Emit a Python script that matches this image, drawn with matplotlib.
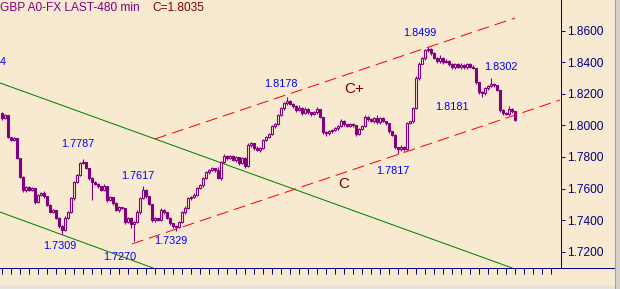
import numpy as np
import matplotlib
matplotlib.use('Agg')
import matplotlib.pyplot as plt
from matplotlib.lines import Line2D
from matplotlib.patches import Rectangle

plt.rcParams['font.family'] = ['Liberation Sans', 'DejaVu Sans']
plt.rcParams['lines.scale_dashes'] = False

symbol = 'GBP A0-FX LAST-480 min'

# 480 min closes, oldest first
closes = [
    1.8044, 1.8063, 1.7924, 1.7905, 1.7918, 1.7791, 1.7671, 1.7589, 1.7608, 1.7589,
    1.7601, 1.7513, 1.7557, 1.7570, 1.7551, 1.7494, 1.7449, 1.7462, 1.7411, 1.7361,
    1.7335, 1.7411, 1.7449, 1.7538, 1.7639, 1.7683, 1.7759, 1.7766, 1.7728, 1.7665,
    1.7639, 1.7627, 1.7614, 1.7589, 1.7614, 1.7525, 1.7544, 1.7506, 1.7462, 1.7481,
    1.7475, 1.7386, 1.7411, 1.7373, 1.7386, 1.7449, 1.7538, 1.7589, 1.7551, 1.7500,
    1.7399, 1.7411, 1.7399, 1.7462, 1.7449, 1.7411, 1.7380, 1.7361, 1.7354, 1.7386,
    1.7449, 1.7475, 1.7538, 1.7544, 1.7557, 1.7601, 1.7620, 1.7665, 1.7702, 1.7715,
    1.7728, 1.7715, 1.7665, 1.7766, 1.7804, 1.7791, 1.7804, 1.7778, 1.7797, 1.7759,
    1.7791, 1.7740, 1.7873, 1.7886, 1.7854, 1.7842, 1.7854, 1.7905, 1.7924, 1.7943,
    1.7994, 1.8006, 1.8063, 1.8108, 1.8139, 1.8152, 1.8133, 1.8120, 1.8095, 1.8108,
    1.8076, 1.8101, 1.8082, 1.8070, 1.8082, 1.8101, 1.8051, 1.7956, 1.7949, 1.7962,
    1.7968, 1.7981, 1.7994, 1.8025, 1.8006, 1.7994, 1.8006, 1.8000, 1.7943, 1.7975,
    1.7994, 1.8051, 1.8038, 1.8025, 1.8044, 1.8019, 1.8044, 1.8025, 1.8013, 1.7962,
    1.7937, 1.7861, 1.7848, 1.7861, 1.7848, 1.8013, 1.8025, 1.8108, 1.8298, 1.8392,
    1.8424, 1.8475, 1.8481, 1.8456, 1.8424, 1.8405, 1.8424, 1.8399, 1.8411, 1.8386,
    1.8367, 1.8386, 1.8367, 1.8380, 1.8367, 1.8386, 1.8373, 1.8361, 1.8272, 1.8209,
    1.8203, 1.8234, 1.8247, 1.8260, 1.8253, 1.8222, 1.8095, 1.8076, 1.8070, 1.8101,
    1.8089, 1.8035]
first_open = 1.8076

# wick lengths above / below the body, in pips
wick_hi = [
    6, 10, 4, 5, 8, 3, 4, 6, 9, 5,
    7, 4, 8, 6, 12, 3, 5, 9, 4, 6,
    5, 12, 8, 10, 6, 12, 9, 21, 5, 4,
    8, 6, 10, 4, 14, 5, 9, 3, 6, 8,
    5, 4, 9, 6, 8, 12, 10, 28, 6, 4,
    3, 8, 5, 14, 6, 5, 9, 4, 6, 10,
    8, 12, 6, 9, 14, 7, 10, 8, 12, 6,
    9, 5, 20, 8, 12, 6, 10, 8, 9, 5,
    7, 6, 14, 9, 5, 18, 7, 10, 6, 8,
    9, 12, 8, 10, 12, 26, 9, 6, 8, 20,
    7, 14, 9, 6, 10, 18, 5, 4, 6, 9,
    7, 10, 8, 14, 9, 6, 12, 8, 5, 10,
    7, 14, 9, 12, 8, 20, 9, 11, 6, 5,
    4, 6, 5, 12, 8, 8, 6, 10, 12, 8,
    12, 10, 18, 8, 10, 9, 22, 8, 10, 6,
    8, 12, 10, 18, 9, 12, 8, 10, 5, 4,
    6, 9, 12, 42, 8, 6, 4, 6, 9, 20,
    10, 4]
wick_lo = [
    8, 6, 5, 7, 4, 6, 5, 8, 10, 6,
    5, 9, 4, 6, 8, 5, 7, 4, 6, 8,
    26, 5, 6, 4, 8, 5, 6, 4, 7, 9,
    110, 6, 8, 5, 7, 10, 6, 8, 5, 9,
    6, 8, 5, 20, 103, 6, 8, 7, 9, 6,
    8, 10, 6, 5, 9, 6, 8, 12, 25, 6,
    5, 8, 6, 9, 5, 7, 6, 8, 5, 7,
    6, 9, 5, 8, 6, 9, 7, 5, 10, 8,
    6, 9, 5, 8, 10, 6, 12, 5, 7, 6,
    5, 8, 6, 5, 9, 7, 6, 8, 10, 6,
    9, 6, 12, 8, 6, 9, 5, 8, 14, 7,
    9, 6, 8, 5, 9, 7, 6, 10, 8, 6,
    7, 5, 8, 6, 9, 7, 10, 6, 8, 9,
    7, 12, 31, 10, 8, 7, 6, 9, 5, 8,
    6, 9, 7, 8, 6, 9, 7, 12, 6, 8,
    7, 9, 6, 8, 10, 7, 8, 6, 9, 8,
    22, 12, 8, 6, 9, 7, 8, 10, 7, 6,
    9, 10]

# swing labels: text, bar, price where the label sits
swing_text = ['1.8178', '1.8499', '1.8302', '1.8181', '1.7787', '1.7617',
              '1.7309', '1.7270', '1.7329', '1.7817']
swing_bar = [93.1, 139.4, 166.4, 150.1, 25.4, 45.4, 19.4, 39.4, 56.4, 130.4]
swing_y = [1.8262, 1.8585, 1.8370, 1.8117, 1.7882, 1.7679, 1.7236, 1.7166, 1.7267, 1.7711]

# trend lines (bar, price) end points
chan_upper = [(51.1, 1.7914), (171.1, 1.8680)]
chan_lower = [(43.4, 1.7249), (186.1, 1.8161)]
green_1 = [(-0.57, 1.8269), (170.1, 1.7097)]
green_2 = [(-0.57, 1.7451), (50.4, 1.7097)]

price_ticks = [1.72, 1.74, 1.76, 1.78, 1.80, 1.82, 1.84, 1.86]

bg = '#F7EAD0'
purple = '#800080'
navy = '#000080'
px = 0.72  # one pixel in points

closes = np.array(closes)
opens = np.concatenate([[first_open], closes[:-1]])
highs = np.maximum(opens, closes) + np.array(wick_hi) / 10000
lows = np.minimum(opens, closes) - np.array(wick_lo) / 10000
idx = np.arange(len(closes))

fig = plt.figure(figsize=(6.2, 2.89), dpi=100)
fig.patch.set_facecolor(bg)
ax = fig.add_axes([0, 21 / 289, 561 / 620, 268 / 289])
ax.set_facecolor(bg)
ax.set_xlim(-0.567, 186.43)
ax.set_ylim(1.70966, 1.87944)

# candles
ax.vlines(idx, lows, highs, color=purple, lw=1.1 * px, zorder=2)
up = closes >= opens
body_bot = np.minimum(opens, closes)
body_h = np.maximum(np.abs(closes - opens), 0.0003)
ax.bar(idx[up], body_h[up], bottom=body_bot[up], width=0.8,
       facecolor=bg, edgecolor=purple, lw=1.1 * px, zorder=3)
ax.bar(idx[~up], body_h[~up], bottom=body_bot[~up], width=0.8,
       facecolor=purple, edgecolor=purple, lw=1.1 * px, zorder=3)

# channel and trend lines
for pts in (chan_upper, chan_lower):
    ax.plot([p[0] for p in pts], [p[1] for p in pts], color='#FF0000', lw=px,
            dashes=(8.6, 4.3), zorder=4)
for pts in (green_1, green_2):
    ax.plot([p[0] for p in pts], [p[1] for p in pts], color='#008000', lw=px, zorder=1)

for t, b, y in zip(swing_text, swing_bar, swing_y):
    ax.text(b, y, t, color='#0000FF', fontsize=7.8, ha='center', va='center', zorder=5)
ax.text(-0.5, 1.8402, '4', color='#0000FF', fontsize=7.8, ha='left', va='center')
ax.text(117.4, 1.8231, 'C+', color='#800000', fontsize=11, ha='center', va='center')
ax.text(113.9, 1.7628, 'C', color='#800000', fontsize=11, ha='center', va='center')

# axes look
for s in ('left', 'top'):
    ax.spines[s].set_visible(False)
for s in ('right', 'bottom'):
    ax.spines[s].set_color(navy)
    ax.spines[s].set_linewidth(px)
ax.yaxis.tick_right()
ax.set_yticks(price_ticks)
ax.set_yticklabels(['%.4f' % v for v in price_ticks])
ax.tick_params(axis='y', colors=navy, labelsize=8.6, length=2.9, width=px, pad=1.5)
ax.set_xticks(np.arange(0, 184, 3))
ax.tick_params(axis='x', colors=navy, length=4.3, width=px, labelbottom=False)

# bottom line runs past the price scale, window frame on right / bottom
fig.add_artist(Line2D([561 / 620, 615 / 620], [21 / 289, 21 / 289], color=navy, lw=px))
fig.add_artist(Rectangle((0, 0), 615 / 620, 4 / 289, transform=fig.transFigure,
                         facecolor='#E6E3DC', edgecolor='none'))
fig.add_artist(Rectangle((615 / 620, 0), 5 / 620, 1, transform=fig.transFigure,
                         facecolor='#D4D0C8', edgecolor='none'))
fig.add_artist(Line2D([615 / 620, 615 / 620], [0, 1], color='#A0A0A0', lw=px))

fig.text(0.5 / 620, 1 - 8 / 289, symbol, color=purple, fontsize=8.6, ha='left', va='center')
fig.text(152 / 620, 1 - 8 / 289, 'C=%.4f' % closes[-1], color='#800000', fontsize=8.6,
         ha='left', va='center')

fig.savefig('out.png', dpi=100, facecolor=bg)
